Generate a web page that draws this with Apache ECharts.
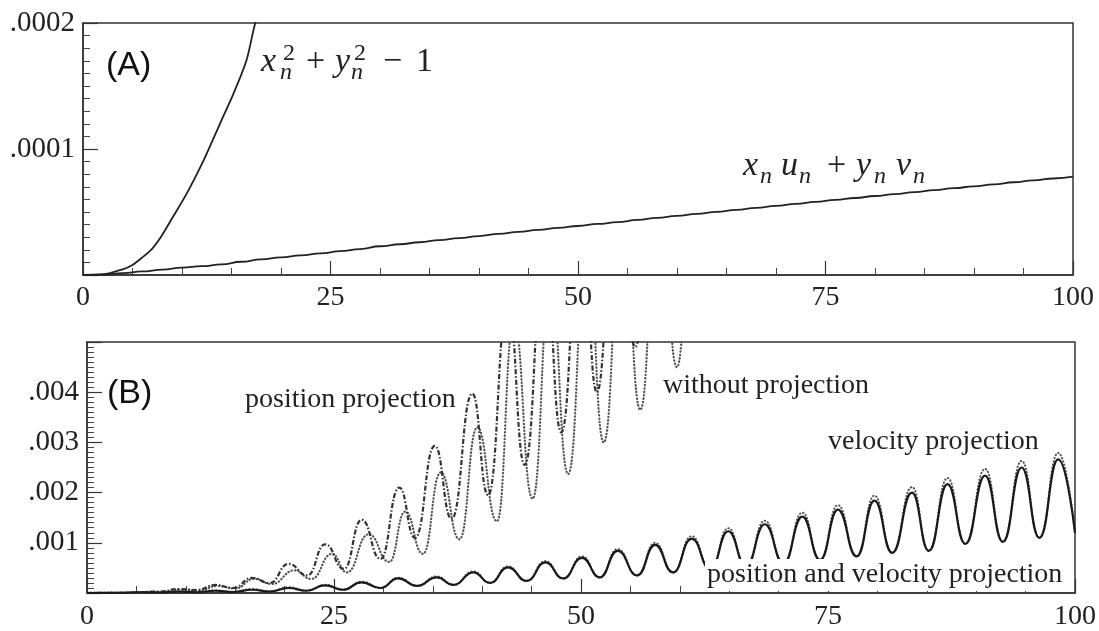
<!DOCTYPE html>
<html>
<head>
<meta charset="utf-8">
<style>
  html, body { margin: 0; padding: 0; background: #fff; }
  #chart { width: 1099px; height: 631px; }
</style>
<script src="https://cdn.jsdelivr.net/npm/echarts@6/dist/echarts.min.js"></script>
</head>
<body>
<div id="chart"></div>
<script>
// ---- (A) 上图数据 ----
var normX = [0, 2, 4, 5, 6, 7, 7.8, 9, 10.5, 12, 13.1, 14, 15.2, 16.5, 17.4, 18.2];
var normY = [0, 4e-7, 4.5e-6, 8e-6, 1.4e-5, 2.1e-5, 2.93e-5, 4.5e-5, 6.5e-5, 8.8e-5, 1.07e-4, 1.23e-4, 1.44e-4, 1.7e-4, 2.0e-4, 2.18e-4];

var dotX = [0, 2, 4, 6, 8, 10, 12, 14, 16, 18, 20, 22, 24, 26, 28, 30, 32, 34, 36, 38, 40, 42, 44, 46, 48, 50,
            52, 54, 56, 58, 60, 62, 64, 66, 68, 70, 72, 74, 76, 78, 80, 82, 84, 86, 88, 90, 92, 94, 96, 98, 100];
var dotY = [0, 4e-7, 1.5e-6, 2.8e-6, 4.3e-6, 5.8e-6, 7.0e-6, 8.4e-6, 1.05e-5, 1.24e-5, 1.4e-5, 1.56e-5, 1.72e-5,
            1.89e-5, 2.06e-5, 2.28e-5, 2.44e-5, 2.6e-5, 2.76e-5, 2.93e-5, 3.09e-5, 3.26e-5, 3.42e-5, 3.58e-5, 3.74e-5,
            3.89e-5, 4.05e-5, 4.2e-5, 4.37e-5, 4.53e-5, 4.69e-5, 4.85e-5, 5.01e-5, 5.17e-5, 5.32e-5, 5.48e-5, 5.64e-5,
            5.8e-5, 5.96e-5, 6.11e-5, 6.27e-5, 6.42e-5, 6.58e-5, 6.73e-5, 6.89e-5, 7.04e-5, 7.2e-5, 7.36e-5, 7.51e-5,
            7.66e-5, 7.8e-5];

// ---- (B) 下图数据 ----
// position and velocity projection (实线)
var pvX = [0, 3, 5.6, 7.4, 9.3, 11.1, 13.0, 14.8, 16.7, 18.5, 20.4, 22.2, 24.1, 25.9, 27.8, 29.7, 31.5, 33.4,
           35.4, 37.1, 39.1, 40.8, 42.6, 44.5, 46.4, 48.2, 50.1, 51.9, 53.7, 55.7, 57.5, 59.3, 61.2, 63.1, 64.9,
           66.7, 68.6, 70.5, 72.4, 74.2, 76.0, 77.9, 79.7, 81.5, 83.5, 85.2, 87.1, 88.9, 90.9, 92.7, 94.6, 96.4,
           98.3, 100];
var pvY = [0, 5e-6, 1.5e-5, 1e-5, 3e-5, 1.5e-5, 4.5e-5, 2e-5, 6.5e-5, 3e-5, 1e-4, 4.5e-5, 1.5e-4, 6.5e-5, 2.1e-4,
           1e-4, 2.9e-4, 1.4e-4, 3.1e-4, 1.6e-4, 4.1e-4, 2e-4, 5.1e-4, 2.4e-4, 6.1e-4, 2.9e-4, 7e-4, 3.1e-4, 8.4e-4,
           3.5e-4, 9.6e-4, 4.1e-4, 1.08e-3, 4.7e-4, 1.23e-3, 5.3e-4, 1.37e-3, 5.9e-4, 1.52e-3, 6.6e-4, 1.66e-3,
           7.3e-4, 1.84e-3, 8e-4, 2e-3, 8.4e-4, 2.17e-3, 9.8e-4, 2.34e-3, 1.02e-3, 2.5e-3, 1.1e-3, 2.66e-3, 1.2e-3];
// velocity projection (点线, 峰值略高)
var velY = [0, 5e-6, 2e-5, 1e-5, 3.5e-5, 1.5e-5, 5.5e-5, 2e-5, 8e-5, 3e-5, 1.15e-4, 4.5e-5, 1.65e-4, 6.5e-5, 2.25e-4,
            1e-4, 3.05e-4, 1.4e-4, 3.3e-4, 1.6e-4, 4.3e-4, 2e-4, 5.3e-4, 2.4e-4, 6.35e-4, 2.9e-4, 7.3e-4, 3.1e-4,
            8.75e-4, 3.5e-4, 1e-3, 4.1e-4, 1.13e-3, 4.7e-4, 1.29e-3, 5.3e-4, 1.44e-3, 5.9e-4, 1.6e-3, 6.6e-4,
            1.75e-3, 7.3e-4, 1.94e-3, 8e-4, 2.11e-3, 8.4e-4, 2.29e-3, 9.8e-4, 2.47e-3, 1.02e-3, 2.63e-3, 1.1e-3,
            2.79e-3, 1.2e-3];
// position projection (点划线)
var ppX = [0, 4, 7.4, 9.3, 11.1, 13.0, 14.8, 16.7, 18.5, 20.4, 22.3, 24.1, 26.0, 27.8, 29.7, 31.6, 33.2, 35.2,
           36.9, 39.0, 40.6, 42.6, 44.3, 46.3, 48.0, 50.0, 51.6, 53.6, 55.5, 57.5, 59.3, 61.2];
var ppY = [0, 5e-6, 3e-5, 8e-5, 6e-5, 1.6e-4, 1e-4, 3e-4, 2e-4, 5.8e-4, 3.5e-4, 9.7e-4, 4.8e-4, 1.46e-3, 6.8e-4,
           2.1e-3, 1.1e-3, 2.93e-3, 1.48e-3, 3.97e-3, 1.95e-3, 5.8e-3, 2.55e-3, 6.8e-3, 3.2e-3, 7.8e-3, 4e-3,
           8.8e-3, 4.9e-3, 9.8e-3, 6e-3, 1.1e-2];
// without projection (点线)
var woX = [0, 4, 7.6, 9.5, 11.3, 13.2, 15.0, 16.9, 18.7, 21.0, 22.7, 24.8, 26.3, 28.5, 30.6, 32.2, 34.0, 35.8,
           37.7, 39.5, 41.5, 43.2, 45.1, 46.9, 48.7, 50.6, 52.3, 54.2, 56.0, 57.9, 59.7, 61.6, 63.4, 65.3];
var woY = [0, 5e-6, 2.5e-5, 7e-5, 5e-5, 1.4e-4, 9e-5, 2.8e-4, 1.8e-4, 4.5e-4, 2.8e-4, 7.8e-4, 4.1e-4, 1.17e-3,
           6.2e-4, 1.62e-3, 7.8e-4, 2.4e-3, 1.07e-3, 3.3e-3, 1.43e-3, 5.4e-3, 1.88e-3, 6.2e-3, 2.37e-3, 7e-3,
           3e-3, 7.8e-3, 3.65e-3, 8.6e-3, 4.5e-3, 9.5e-3, 5.7e-3, 1.05e-2];

var xTicks = [0, 25, 50, 75, 100];

function zip(xs, ys) {
    return xs.map(function(x, i) { return [x, ys[i]]; });
}

var ink = '#222';
var serif = '"Liberation Serif", "DejaVu Serif", serif';

function fmtY(v) {
    if (v === 0) return '';
    return String(v).replace(/^0/, '');
}

function xAxisCfg(idx) {
    return {
        type: 'value', gridIndex: idx, min: xTicks[0], max: xTicks[xTicks.length - 1], interval: 25,
        axisLine: { show: true, lineStyle: { color: '#333', width: 1.5 } },
        axisTick: { inside: true, length: 14, lineStyle: { color: '#333', width: 1.2 } },
        minorTick: { show: true, splitNumber: 5, length: 7, lineStyle: { color: '#444', width: 1 } },
        splitLine: { show: false },
        axisLabel: { color: ink, fontFamily: serif, fontSize: 28, margin: idx === 0 ? 9 : 10 }
    };
}

function yAxisCfg(idx, max, interval, showMax) {
    return {
        type: 'value', gridIndex: idx, min: 0, max: max, interval: interval,
        axisLine: { show: true, lineStyle: { color: '#333', width: 1.5 } },
        axisTick: { inside: true, length: 15, lineStyle: { color: '#333', width: 1.2 } },
        minorTick: { show: true, splitNumber: 10, length: 7, lineStyle: { color: '#444', width: 1 } },
        splitLine: { show: false },
        axisLabel: { color: ink, fontFamily: serif, fontSize: 29, margin: 8, formatter: fmtY, showMaxLabel: showMax }
    };
}

// 数学公式标注：用若干小文字拼出上下标
function mathLabel(x0, y0, pieces) {
    return {
        type: 'group', x: x0, y: y0, z: 100,
        children: pieces.map(function(p) {
            var size = p[2] === 'm' ? 34 : 24;
            var dy = p[2] === 'm' ? -11 : (p[2] === 'sup' ? -19 : 0);
            return {
                type: 'text', x: p[1], y: dy, z: 100,
                style: {
                    text: p[0], fill: ink, verticalAlign: 'middle', align: 'left',
                    font: (p[3] ? 'italic ' : '') + size + 'px ' + serif
                }
            };
        })
    };
}

function plainLabel(x, y, text, extra) {
    var st = { text: text, fill: ink, verticalAlign: 'middle', align: 'left', font: '28px ' + serif };
    for (var k in extra) st[k] = extra[k];
    return { type: 'text', x: x, y: y, z: 100, style: st };
}

var chart = echarts.init(document.getElementById('chart'));

var option = {
    backgroundColor: '#fff',
    animation: false,
    grid: [
        { left: 83, top: 23, width: 990, height: 252, show: true, borderColor: '#333', borderWidth: 1.5 },
        { left: 87, top: 342, width: 988, height: 256, show: true, borderColor: '#333', borderWidth: 1.5 }
    ],
    xAxis: [xAxisCfg(0), xAxisCfg(1)],
    yAxis: [yAxisCfg(0, 0.0002, 0.0001, true), yAxisCfg(1, 0.005, 0.001, false)],
    series: [
        {
            name: 'x_n^2+y_n^2-1', type: 'line', xAxisIndex: 0, yAxisIndex: 0,
            data: zip(normX, normY), showSymbol: false, symbol: 'none', smooth: 0.3, clip: true,
            lineStyle: { color: '#222', width: 1.8 }
        },
        {
            name: 'x_n u_n + y_n v_n', type: 'line', xAxisIndex: 0, yAxisIndex: 0,
            data: zip(dotX, dotY), showSymbol: false, symbol: 'none', smooth: 0.5, smoothMonotone: 'x', clip: true,
            lineStyle: { color: '#222', width: 1.8 }
        },
        {
            name: 'without projection', type: 'line', xAxisIndex: 1, yAxisIndex: 1, z: 2,
            data: zip(woX, woY), showSymbol: false, symbol: 'none', smooth: 0.5, smoothMonotone: 'x', clip: true,
            lineStyle: { color: '#555', width: 2.2, type: [0.4, 3], cap: 'round' }
        },
        {
            name: 'position projection', type: 'line', xAxisIndex: 1, yAxisIndex: 1, z: 3,
            data: zip(ppX, ppY), showSymbol: false, symbol: 'none', smooth: 0.5, smoothMonotone: 'x', clip: true,
            lineStyle: { color: '#333', width: 2.2, type: [5, 2, 1.5, 2] }
        },
        {
            name: 'velocity projection', type: 'line', xAxisIndex: 1, yAxisIndex: 1, z: 3,
            data: zip(pvX, velY), showSymbol: false, symbol: 'none', smooth: 0.5, smoothMonotone: 'x', clip: true,
            lineStyle: { color: '#555', width: 2, type: [0.4, 3], cap: 'round' }
        },
        {
            name: 'position and velocity projection', type: 'line', xAxisIndex: 1, yAxisIndex: 1, z: 4,
            data: zip(pvX, pvY), showSymbol: false, symbol: 'none', smooth: 0.5, smoothMonotone: 'x', clip: true,
            lineStyle: { color: '#1a1a1a', width: 2.2 }
        }
    ],
    graphic: [
        { type: 'text', x: 106, y: 66, z: 100,
          style: { text: '(A)', fill: '#111', verticalAlign: 'middle', font: '34px "Liberation Sans", "Noto Sans", sans-serif' } },
        { type: 'text', x: 107, y: 394, z: 100,
          style: { text: '(B)', fill: '#111', verticalAlign: 'middle', font: '34px "Liberation Sans", "Noto Sans", sans-serif' } },
        mathLabel(261, 73, [
            ['x', 0, 'm', true], ['2', 22, 'sup'], ['n', 19, 'sub', true], ['+', 45, 'm'],
            ['y', 74, 'm', true], ['2', 93, 'sup'], ['n', 90, 'sub', true], ['\u2212', 122, 'm'], ['1', 155, 'm']
        ]),
        mathLabel(743, 177, [
            ['x', 0, 'm', true], ['n', 17, 'sub', true], ['u', 38, 'm', true], ['n', 56, 'sub', true],
            ['+', 84, 'm'], ['y', 113, 'm', true], ['n', 131, 'sub', true], ['v', 153, 'm', true], ['n', 170, 'sub', true]
        ]),
        plainLabel(245, 400, 'position projection'),
        plainLabel(663, 386, 'without projection'),
        plainLabel(828, 442, 'velocity projection'),
        plainLabel(705, 575, 'position and velocity projection', { backgroundColor: '#fff', padding: [1, 2, 3, 2] })
    ]
};

chart.setOption(option);
</script>
</body>
</html>
